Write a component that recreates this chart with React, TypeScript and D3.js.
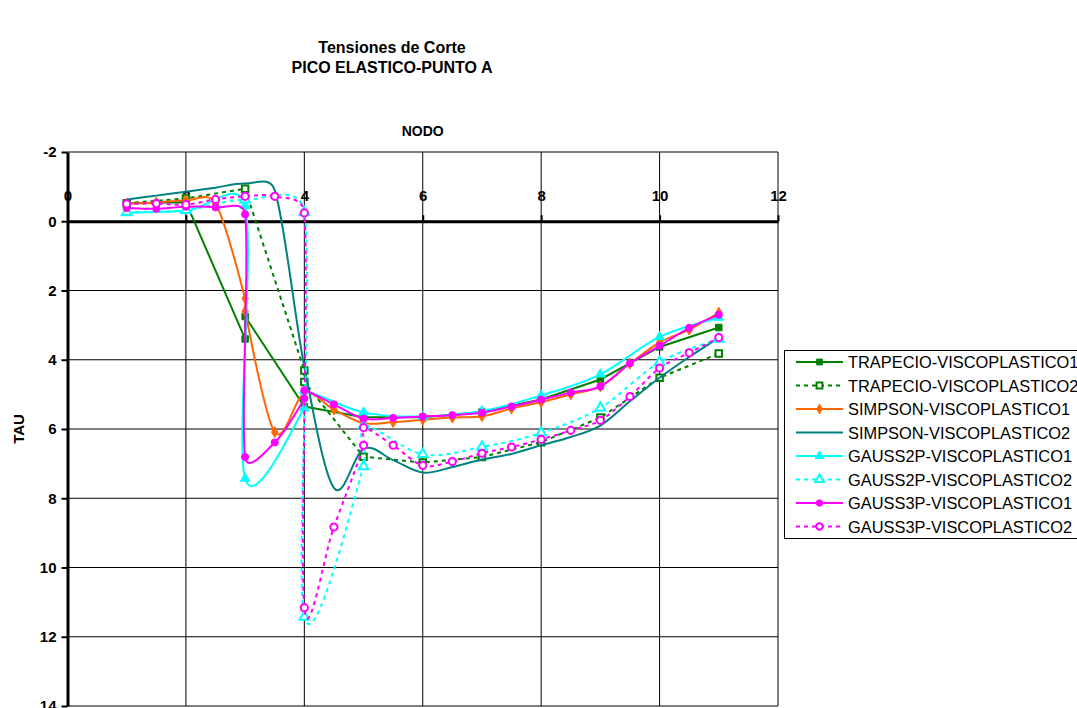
import * as d3 from "d3";
import { useRef, useEffect } from "react";

// nodes (NODO) and shear stress (TAU), per series
const trapecio1X = [1, 2, 3, 3, 4, 5, 6, 7, 8, 9, 10, 11];
const trapecio1Y = [-0.52, -0.55, 3.4, 2.75, 5.35, 5.66, 5.66, 5.51, 5.15, 4.57, 3.63, 3.07];

const trapecio2X = [1, 2, 3, 4, 4, 5, 6, 7, 8, 9, 10, 11];
const trapecio2Y = [-0.52, -0.66, -0.94, 4.31, 4.64, 6.8, 6.97, 6.81, 6.38, 5.67, 4.52, 3.82];

const simpson1X = [1, 1.5, 2, 2.5, 3, 3, 3.5, 4, 4.5, 5, 5.5, 6, 6.5, 7, 7.5, 8, 8.5, 9, 9.5, 10, 10.5, 11];
const simpson1Y = [-0.51, -0.54, -0.6, -0.51, 2.23, 2.6, 6.09, 4.97, 5.44, 5.83, 5.8, 5.73, 5.67, 5.63, 5.41, 5.22, 5.0, 4.77, 4.11, 3.5, 3.13, 2.64];

const simpson2X = [1, 1.5, 2, 2.5, 3, 3.5, 4, 4.5, 5, 5.5, 6, 6.5, 7, 7.5, 8, 8.5, 9, 9.5, 10, 10.5, 11];
const simpson2Y = [-0.63, -0.74, -0.85, -0.97, -1.09, -0.9, 4.2, 7.7, 6.57, 6.9, 7.26, 7.1, 6.88, 6.72, 6.47, 6.23, 5.9, 5.2, 4.52, 3.92, 3.36];

const gauss2p1X = [1, 2, 3, 3, 4, 4, 5, 6, 7, 8, 9, 10, 11];
const gauss2p1Y = [-0.24, -0.3, -0.45, 7.43, 5.4, 4.9, 5.52, 5.64, 5.48, 5.03, 4.42, 3.34, 2.78];

const gauss2p2X = [1, 2, 3, 4, 4, 5, 5, 6, 7, 8, 9, 10, 11];
const gauss2p2Y = [-0.26, -0.32, -0.62, -0.26, 11.43, 7.08, 5.9, 6.73, 6.52, 6.11, 5.39, 4.07, 3.4];

const gauss3p1X = [1, 1.5, 2, 2.5, 3, 3, 3.5, 4, 4, 4.5, 5, 5.5, 6, 6.5, 7, 7.5, 8, 8.5, 9, 9.5, 10, 10.5, 11];
const gauss3p1Y = [-0.38, -0.36, -0.42, -0.4, -0.2, 6.81, 6.39, 5.12, 4.88, 5.29, 5.7, 5.68, 5.64, 5.6, 5.53, 5.35, 5.15, 4.95, 4.77, 4.1, 3.6, 3.08, 2.7];

const gauss3p2X = [1, 1.5, 2, 2.5, 3, 3.5, 4, 4, 4.5, 5, 5, 5.5, 6, 6.5, 7, 7.5, 8, 8.5, 9, 9.5, 10, 10.5, 11];
const gauss3p2Y = [-0.5, -0.51, -0.48, -0.63, -0.72, -0.72, -0.24, 11.16, 8.83, 6.47, 5.96, 6.47, 7.05, 6.94, 6.7, 6.52, 6.3, 6.04, 5.75, 5.06, 4.24, 3.8, 3.36];

const seriesNames = [
  "TRAPECIO-VISCOPLASTICO1",
  "TRAPECIO-VISCOPLASTICO2",
  "SIMPSON-VISCOPLASTICO1",
  "SIMPSON-VISCOPLASTICO2",
  "GAUSS2P-VISCOPLASTICO1",
  "GAUSS2P-VISCOPLASTICO2",
  "GAUSS3P-VISCOPLASTICO1",
  "GAUSS3P-VISCOPLASTICO2",
];

const xTicks = [0, 2, 4, 6, 8, 10, 12];
const yTicks = [-2, 0, 2, 4, 6, 8, 10, 12, 14];

// smoothed line close to the spreadsheet one: catmull-rom 1/6 handles, clamped to half a segment
function curveSmooth(context: any) {
  let pts: number[][] = [];
  return {
    areaStart() {},
    areaEnd() {},
    lineStart() {
      pts = [];
    },
    point(x: number, y: number) {
      pts.push([x, y]);
    },
    lineEnd() {
      const n = pts.length;
      if (!n) return;
      context.moveTo(pts[0][0], pts[0][1]);
      for (let i = 0; i < n - 1; i++) {
        const p0 = pts[Math.max(0, i - 1)];
        const p1 = pts[i];
        const p2 = pts[i + 1];
        const p3 = pts[Math.min(n - 1, i + 2)];
        const lim = Math.hypot(p2[0] - p1[0], p2[1] - p1[1]) / 2;
        let ax = (p2[0] - p0[0]) / 6, ay = (p2[1] - p0[1]) / 6;
        let bx = (p3[0] - p1[0]) / 6, by = (p3[1] - p1[1]) / 6;
        const la = Math.hypot(ax, ay), lb = Math.hypot(bx, by);
        if (la > lim) { ax *= lim / la; ay *= lim / la; }
        if (lb > lim) { bx *= lim / lb; by *= lim / lb; }
        context.bezierCurveTo(p1[0] + ax, p1[1] + ay, p2[0] - bx, p2[1] - by, p2[0], p2[1]);
      }
    },
  };
}

export default function App() {
  const svgRef: any = useRef();

  useEffect(() => {
    const w = 1077;
    const h = 708;
    const font = "'Liberation Sans', Arial, sans-serif";
    const svg = d3.select(svgRef.current).attr("width", w).attr("height", h);
    svg.selectAll("*").remove();

    const series = [
      { name: seriesNames[0], xs: trapecio1X, ys: trapecio1Y, color: "#008000", dash: null, smooth: false, sym: d3.symbolSquare, size: 42, hollow: false },
      { name: seriesNames[1], xs: trapecio2X, ys: trapecio2Y, color: "#008000", dash: "4,4", smooth: false, sym: d3.symbolSquare, size: 42, hollow: true },
      { name: seriesNames[2], xs: simpson1X, ys: simpson1Y, color: "#FF6600", dash: null, smooth: true, sym: d3.symbolDiamond, size: 34, hollow: false },
      { name: seriesNames[3], xs: simpson2X, ys: simpson2Y, color: "#008080", dash: null, smooth: true, sym: null, size: 0, hollow: false },
      { name: seriesNames[4], xs: gauss2p1X, ys: gauss2p1Y, color: "#00FFFF", dash: null, smooth: true, sym: d3.symbolTriangle, size: 40, hollow: false },
      { name: seriesNames[5], xs: gauss2p2X, ys: gauss2p2Y, color: "#00FFFF", dash: "4,4", smooth: true, sym: d3.symbolTriangle, size: 40, hollow: true },
      { name: seriesNames[6], xs: gauss3p1X, ys: gauss3p1Y, color: "#FF00FF", dash: null, smooth: true, sym: d3.symbolCircle, size: 40, hollow: false },
      { name: seriesNames[7], xs: gauss3p2X, ys: gauss3p2Y, color: "#FF00FF", dash: "4,4", smooth: true, sym: d3.symbolCircle, size: 40, hollow: true },
    ];

    // scales (TAU grows downward)
    const x = d3.scaleLinear().domain([0, 12]).range([67.5, 778]);
    const y = d3.scaleLinear().domain([-2, 14]).range([152, 706]);

    // title
    svg.append("text").attr("x", 392).attr("y", 53).attr("text-anchor", "middle")
      .style("font", `bold 16px ${font}`).text("Tensiones de Corte");
    svg.append("text").attr("x", 392).attr("y", 73).attr("text-anchor", "middle")
      .style("font", `bold 16px ${font}`).text("PICO ELASTICO-PUNTO A");

    // grid
    const grid = svg.append("g").attr("stroke", "#000").attr("stroke-width", 1);
    yTicks.forEach((t) => {
      grid.append("line").attr("x1", x(0)).attr("x2", x(12)).attr("y1", y(t)).attr("y2", y(t));
    });
    xTicks.slice(1).forEach((t) => {
      grid.append("line").attr("x1", x(t)).attr("x2", x(t)).attr("y1", y(-2)).attr("y2", y(14));
    });

    // axes
    const yAxis = d3.axisLeft(y).tickValues(yTicks).tickFormat((d: any) => String(d))
      .tickSizeInner(6).tickSizeOuter(0).tickPadding(5);
    const gy = svg.append("g").attr("transform", `translate(${x(0)},0)`).call(yAxis);
    gy.select(".domain").attr("stroke-width", 3);
    gy.selectAll(".tick line").attr("stroke-width", 2);
    gy.selectAll(".tick text").style("font", `bold 15px ${font}`);

    const xAxis = d3.axisTop(x).tickValues(xTicks).tickFormat((d: any) => String(d))
      .tickSizeInner(6).tickSizeOuter(0).tickPadding(14);
    const gx = svg.append("g").attr("transform", `translate(0,${y(0)})`).call(xAxis);
    gx.select(".domain").attr("stroke-width", 3);
    gx.selectAll(".tick line").attr("stroke-width", 2);
    gx.selectAll(".tick text").style("font", `bold 15px ${font}`);

    svg.append("text").attr("x", x(6)).attr("y", 136).attr("text-anchor", "middle")
      .style("font", `bold 14px ${font}`).text("NODO");
    svg.append("text").attr("transform", `translate(24,${y(6)}) rotate(-90)`).attr("text-anchor", "middle")
      .style("font", `bold 15px ${font}`).text("TAU");

    // series
    const plot = svg.append("g");
    series.forEach((s) => {
      const pts: [number, number][] = s.xs.map((v, i) => [v, s.ys[i]]);
      const line = d3.line<[number, number]>()
        .x((d) => x(d[0]))
        .y((d) => y(d[1]))
        .curve(s.smooth ? (curveSmooth as any) : d3.curveLinear);
      plot.append("path")
        .attr("d", line(pts))
        .attr("fill", "none")
        .attr("stroke", s.color)
        .attr("stroke-width", 2)
        .attr("stroke-dasharray", s.dash);
      if (s.sym) {
        plot.append("g").selectAll("path").data(pts).join("path")
          .attr("transform", (d) => `translate(${x(d[0])},${y(d[1])})`)
          .attr("d", d3.symbol(s.sym, s.size)())
          .attr("fill", s.hollow ? "#fff" : s.color)
          .attr("stroke", s.color)
          .attr("stroke-width", s.hollow ? 2 : 1);
      }
    });

    // legend
    const lg = svg.append("g");
    lg.append("rect").attr("x", 784.5).attr("y", 350.5).attr("width", 320).attr("height", 188)
      .attr("fill", "#fff").attr("stroke", "#000");
    series.forEach((s, i) => {
      const cy = 362 + i * 23.5;
      lg.append("line").attr("x1", 796).attr("x2", 843).attr("y1", cy).attr("y2", cy)
        .attr("stroke", s.color).attr("stroke-width", 2).attr("stroke-dasharray", s.dash);
      if (s.sym) {
        lg.append("path").attr("transform", `translate(819.5,${cy})`)
          .attr("d", d3.symbol(s.sym, s.size * 0.8)())
          .attr("fill", s.hollow ? "#fff" : s.color)
          .attr("stroke", s.color).attr("stroke-width", s.hollow ? 2 : 1);
      }
      lg.append("text").attr("x", 848).attr("y", cy + 6)
        .style("font", `16.4px ${font}`).attr("fill", "#000").text(s.name);
    });
  }, []);

  return (
    <div style={{ position: "absolute", left: 0, top: 0, width: 1077, height: 708, overflow: "hidden", background: "#fff" }}>
      <svg ref={svgRef}></svg>
    </div>
  );
}
